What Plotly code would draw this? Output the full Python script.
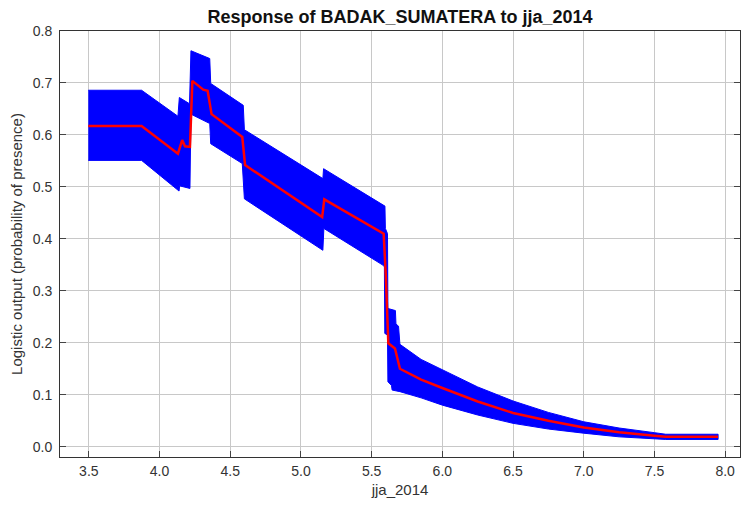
import plotly.graph_objects as go

# ---- data ----
mean_x = [3.496, 3.873, 4.130, 4.160, 4.180, 4.215, 4.232, 4.309, 4.340, 4.368, 4.585,
          4.605, 5.150, 5.165, 5.585, 5.600, 5.618, 5.665, 5.700, 5.850, 6.000, 6.250,
          6.500, 6.750, 7.000, 7.250, 7.500, 7.580, 7.950]
mean_y = [0.617, 0.617, 0.564, 0.590, 0.578, 0.577, 0.704, 0.687, 0.685, 0.640, 0.596,
          0.542, 0.442, 0.476, 0.410, 0.330, 0.199, 0.189, 0.150, 0.129, 0.113, 0.087,
          0.065, 0.050, 0.037, 0.028, 0.021, 0.019, 0.019]

upper_x = [3.496, 3.873, 4.130, 4.140, 4.212, 4.222, 4.355, 4.362, 4.592, 4.600, 5.155,
           5.160, 5.594, 5.597, 5.612, 5.615, 5.668, 5.672, 5.690, 5.700, 5.850, 6.000,
           6.250, 6.500, 6.750, 7.000, 7.250, 7.500, 7.580, 7.950]
upper_y = [0.686, 0.686, 0.636, 0.672, 0.660, 0.762, 0.747, 0.699, 0.657, 0.610, 0.516,
           0.535, 0.463, 0.420, 0.410, 0.266, 0.262, 0.236, 0.232, 0.197, 0.168, 0.148,
           0.115, 0.088, 0.066, 0.048, 0.036, 0.027, 0.024, 0.024]

lower_x = [3.496, 3.873, 4.138, 4.142, 4.215, 4.222, 4.355, 4.362, 4.585, 4.600, 5.155,
           5.162, 5.582, 5.590, 5.593, 5.612, 5.615, 5.640, 5.645, 5.700, 5.850, 6.000,
           6.250, 6.500, 6.750, 7.000, 7.250, 7.500, 7.580, 7.950]
lower_y = [0.551, 0.551, 0.492, 0.502, 0.497, 0.640, 0.622, 0.583, 0.545, 0.477, 0.378,
           0.420, 0.349, 0.346, 0.218, 0.215, 0.125, 0.118, 0.109, 0.106, 0.094, 0.080,
           0.061, 0.045, 0.034, 0.026, 0.019, 0.015, 0.014, 0.014]

x_ticks = [3.5, 4.0, 4.5, 5.0, 5.5, 6.0, 6.5, 7.0, 7.5, 8.0]
x_tick_labels = ["3.5", "4.0", "4.5", "5.0", "5.5", "6.0", "6.5", "7.0", "7.5", "8.0"]
y_ticks = [0.0, 0.1, 0.2, 0.3, 0.4, 0.5, 0.6, 0.7, 0.8]
y_tick_labels = ["0.0", "0.1", "0.2", "0.3", "0.4", "0.5", "0.6", "0.7", "0.8"]

FONT = "Liberation Sans, Arial, sans-serif"

fig = go.Figure()
# band as a closed polygon: upper forwards, lower backwards
fig.add_trace(go.Scatter(
    x=upper_x + lower_x[::-1],
    y=upper_y + lower_y[::-1],
    mode="lines", fill="toself",
    fillcolor="rgb(0,0,255)",
    line=dict(color="rgb(0,0,255)", width=1),
    hoverinfo="skip", showlegend=False))
fig.add_trace(go.Scatter(
    x=mean_x, y=mean_y, mode="lines",
    line=dict(color="rgb(255,0,0)", width=2.5),
    showlegend=False))

axis_common = dict(
    showgrid=True, gridcolor="#c8c8c8", gridwidth=1,
    showline=True, linecolor="#333333", linewidth=1,
    ticks="inside", ticklen=6, tickcolor="#444444",
    tickfont=dict(family=FONT, size=14, color="#333333"),
    zeroline=False,
)

fig.update_layout(
    width=743, height=506,
    margin=dict(l=60, r=3, t=31, b=49),
    plot_bgcolor="white", paper_bgcolor="white",
    font=dict(family=FONT, color="#222222"),
    title=dict(text="<b>Response of BADAK_SUMATERA to jja_2014</b>",
               x=0.5, xref="paper", xanchor="center",
               y=1 - 17 / 506, yref="container", yanchor="middle",
               font=dict(family=FONT, size=18, color="#111111")),
    xaxis=dict(range=[3.296, 8.105], tickvals=x_ticks, ticktext=x_tick_labels,
               mirror=True, ticklabelstandoff=1,
               title=dict(text="jja_2014", font=dict(family=FONT, size=15, color="#333333"),
                          standoff=6),
               **axis_common),
    yaxis=dict(range=[-0.0198, 0.8], tickvals=y_ticks, ticktext=y_tick_labels,
               mirror="ticks", ticklabelstandoff=4,
               title=dict(text="Logistic output (probability of presence)",
                          font=dict(family=FONT, size=15, color="#333333"),
                          standoff=6),
               **axis_common),
)

fig.write_html("out.html")
